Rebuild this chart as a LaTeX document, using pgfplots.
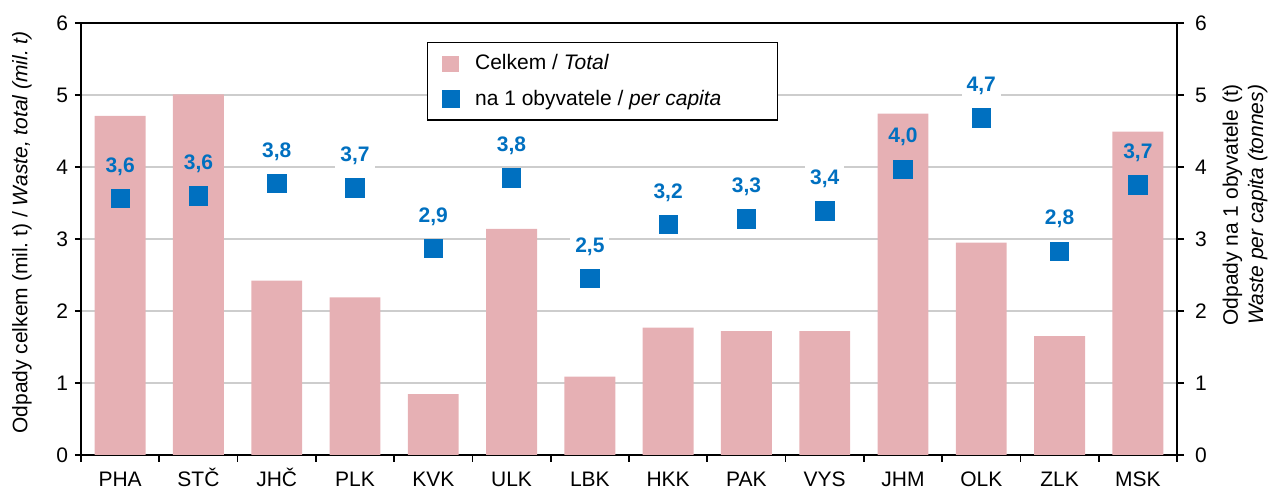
\documentclass[border=0pt]{standalone}
\usepackage{pgfplots}
\usepackage{pgfplotstable}
\pgfplotsset{compat=1.18}
\usepackage{fontspec}
\setmainfont{Liberation Sans}
\definecolor{barpink}{RGB}{230,176,180}
\definecolor{ptblue}{RGB}{0,112,192}
\definecolor{gridgray}{RGB}{205,205,205}

\pgfplotstableread{
x  tot   pc    lab   bgw
0  4.71  3.56  3,6   0
1  5.01  3.60  3,6   0
2  2.42  3.77  3,8   1
3  2.19  3.71  3,7   1
4  0.845 2.87  2,9   1
5  3.14  3.85  3,8   1
6  1.09  2.45  2,5   1
7  1.77  3.20  3,2   1
8  1.72  3.28  3,3   1
9  1.72  3.39  3,4   1
10 4.74  3.97  4,0   0
11 2.95  4.68  4,7   1
12 1.65  2.83  2,8   1
13 4.49  3.75  3,7   0
}\datatable

\begin{document}
\begin{tikzpicture}[font=\fontsize{10.5}{12.6}\selectfont]
\pgfplotsset{
  every axis/.append style={font=\fontsize{10.5}{12.6}\selectfont},
  /pgf/number format/assume math mode=true,
}
\begin{axis}[
  name=ax,
  scale only axis,
  width=548pt, height=216pt,
  xmin=-0.5, xmax=13.5,
  ymin=0, ymax=6,
  ytick={0,1,...,6},
  ytick pos=left,
  xtick={0,...,13},
  xticklabels={PHA,STČ,JHČ,PLK,KVK,ULK,LBK,HKK,PAK,VYS,JHM,OLK,ZLK,MSK},
  xtick pos=bottom,
  minor xtick={-0.5,0.5,...,13.5},
  major x tick style={draw=none},
  tick align=outside,
  major tick length=3pt,
  minor tick length=3.5pt,
  tick style={black, line width=0.8pt},
  axis line style={black, line width=0.9pt},
  ymajorgrids,
  grid style={gridgray, line width=0.7pt},
  xticklabel style={text height=8pt, text depth=1pt, yshift=-1pt},
  ylabel={Odpady celkem (mil.\ t) / \textit{Waste, total (mil.\ t)}},
  ylabel style={at={(rel axis cs:0,0.515)}, anchor=center, yshift=29.5pt},
  legend style={at={(rel axis cs:0.3157,0.956)}, anchor=north west,
    draw=black, line width=0.7pt, fill=white, inner xsep=7pt, inner ysep=4pt,
    row sep=4.5pt, font=\fontsize{10.5}{12.6}\selectfont,
    /tikz/every odd column/.append style={column sep=5.5pt}},
  legend cell align=left,
]
\addplot[ybar, bar width=0.65, fill=barpink, draw=none, bar shift=0pt,
  legend image code/.code={\fill[barpink] (0pt,-4pt) rectangle (8.5pt,4pt);}]
  table[x=x, y=tot] {\datatable};
\addlegendentry{Celkem / \textit{Total}}
\addplot[only marks, mark=square*, mark size=4.6pt, color=ptblue,
  legend image code/.code={\fill[ptblue] (0pt,-4pt) rectangle (8.5pt,4pt);},
  point meta=explicit symbolic,
  visualization depends on={\thisrow{bgw} \as \bgw},
  nodes near coords,
  every node near coord/.append style={anchor=center, yshift=16pt,
    font=\fontsize{10.5}{12.6}\selectfont\bfseries, text=ptblue,
    fill=white, fill opacity=\bgw, text opacity=1, inner sep=2.5pt}]
  table[x=x, y=pc, meta=lab] {\datatable};
\addlegendentry{na 1 obyvatele / \textit{per capita}\rule{19pt}{0pt}}
\end{axis}
\begin{axis}[
  scale only axis,
  width=548pt, height=216pt,
  xmin=-0.5, xmax=13.5,
  ymin=0, ymax=6,
  ytick={0,1,...,6},
  axis x line=none,
  axis y line*=right,
  tick align=outside,
  major tick length=3.5pt,
  tick style={black, line width=0.8pt},
  axis line style={black, line width=0.9pt, -},
  yticklabel style={xshift=2pt},
  ylabel={Odpady na 1 obyvatele (t)\\\textit{Waste per capita (tonnes)}},
  ylabel style={at={(rel axis cs:1,0.579)}, anchor=center, yshift=-34pt, align=center},
]
\end{axis}
\pgfresetboundingbox
\path[use as bounding box] ([shift={(-40.5pt,-16.5pt)}]ax.south west) rectangle ([shift={(47pt,11.5pt)}]ax.north east);
\end{tikzpicture}
\end{document}
